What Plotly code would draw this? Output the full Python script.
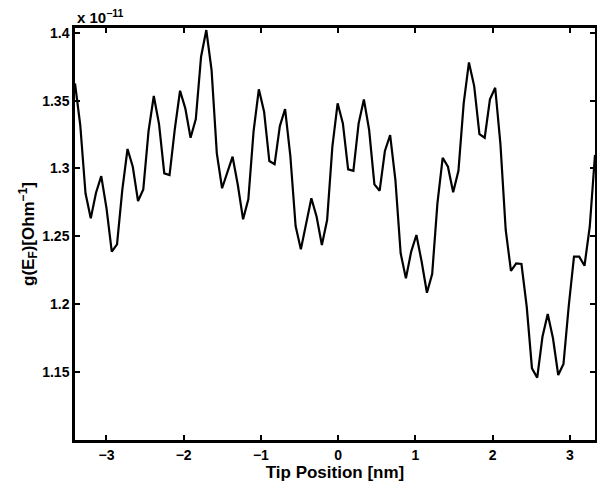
import plotly.graph_objects as go

tip_position_nm = [
    -3.407, -3.339, -3.271, -3.203, -3.135, -3.067, -2.999, -2.931, -2.863, -2.795,
    -2.727, -2.659, -2.591, -2.523, -2.455, -2.387, -2.319, -2.251, -2.183, -2.115,
    -2.047, -1.979, -1.911, -1.843, -1.775, -1.707, -1.639, -1.571, -1.503, -1.435,
    -1.367, -1.299, -1.231, -1.163, -1.095, -1.027, -0.959, -0.891, -0.823, -0.755,
    -0.687, -0.619, -0.551, -0.483, -0.415, -0.347, -0.279, -0.211, -0.143, -0.075,
    -0.007, 0.061, 0.129, 0.197, 0.265, 0.333, 0.401, 0.469, 0.537, 0.605,
    0.673, 0.741, 0.809, 0.877, 0.945, 1.013, 1.081, 1.149, 1.217, 1.285,
    1.353, 1.421, 1.489, 1.557, 1.625, 1.693, 1.761, 1.829, 1.897, 1.965,
    2.033, 2.101, 2.169, 2.237, 2.305, 2.373, 2.441, 2.509, 2.577, 2.645,
    2.713, 2.781, 2.849, 2.917, 2.985, 3.053, 3.121, 3.189, 3.257, 3.325,
]

# g(E_F) in units of 1e-11 Ohm^-1
g_ef = [
    1.3628, 1.3321, 1.2817, 1.2632, 1.2821, 1.2944, 1.2706, 1.2386, 1.2440, 1.2841,
    1.3144, 1.3013, 1.2760, 1.2846, 1.3276, 1.3535, 1.3328, 1.2964, 1.2952, 1.3291,
    1.3574, 1.3444, 1.3227, 1.3365, 1.3825, 1.4022, 1.3727, 1.3112, 1.2854, 1.2969,
    1.3087, 1.2878, 1.2625, 1.2772, 1.3276, 1.3584, 1.3419, 1.3055, 1.3031, 1.3313,
    1.3439, 1.3092, 1.2575, 1.2403, 1.2600, 1.2780, 1.2644, 1.2435, 1.2620, 1.3161,
    1.3481, 1.3333, 1.2994, 1.2983, 1.3333, 1.3510, 1.3284, 1.2883, 1.2836, 1.3129,
    1.3247, 1.2915, 1.2374, 1.2189, 1.2386, 1.2509, 1.2312, 1.2083, 1.2221, 1.2743,
    1.3079, 1.3013, 1.2824, 1.2983, 1.3481, 1.3783, 1.3608, 1.3254, 1.3227, 1.3510,
    1.3596, 1.3178, 1.2546, 1.2245, 1.2300, 1.2295, 1.1980, 1.1525, 1.1456, 1.1758,
    1.1926, 1.1747, 1.1476, 1.1557, 1.1985, 1.2349, 1.2349, 1.2282, 1.2570, 1.3100,
]

x_ticks = [-3, -2, -1, 0, 1, 2, 3]
x_tick_labels = ["−3", "−2", "−1", "0", "1", "2", "3"]
y_ticks = [1.15, 1.2, 1.25, 1.3, 1.35, 1.4]
y_tick_labels = ["1.15", "1.2", "1.25", "1.3", "1.35", "1.4"]
y_range = [1.0996, 1.4037]

FONT = "Liberation Sans, Arial, Helvetica, sans-serif"

fig = go.Figure()
fig.add_trace(go.Scatter(
    x=tip_position_nm, y=g_ef, mode="lines",
    line=dict(color="black", width=2.2),
    showlegend=False, hoverinfo="skip",
))

axis_common = dict(
    showline=True, linecolor="black", linewidth=2.5, mirror="allticks",
    ticks="inside", ticklen=5, tickwidth=1.5, tickcolor="black",
    showgrid=False, zeroline=False, automargin=False,
    tickfont=dict(family=FONT, size=14, color="black"),
)

fig.update_layout(
    width=597, height=484,
    margin=dict(l=75, r=2, t=28, b=44, pad=0),
    paper_bgcolor="white", plot_bgcolor="white",
    font=dict(family=FONT, color="black"),
    xaxis=dict(
        range=[tip_position_nm[0], tip_position_nm[-1]],
        tickvals=x_ticks, ticktext=["<b>%s</b>" % t for t in x_tick_labels],
        title=dict(text="<b>Tip Position [nm]</b>", font=dict(family=FONT, size=17), standoff=0),
        **axis_common,
    ),
    yaxis=dict(
        range=y_range,
        tickvals=y_ticks, ticktext=["<b>%s</b>" % t for t in y_tick_labels],
        title=dict(text="<b>g(E<sub>F</sub>)[Ohm<sup>−1</sup>]</b>", font=dict(family=FONT, size=17), standoff=4),
        **axis_common,
    ),
    annotations=[dict(
        xref="paper", yref="paper", x=0, y=1, xanchor="left", yanchor="bottom",
        text="<b>x 10<sup>−11</sup></b>", showarrow=False, yshift=0,
        font=dict(family=FONT, size=15, color="black"),
    )],
)

fig.write_html(
    "out.html",
    config={"displayModeBar": False},
    post_script="document.body.style.margin='0';document.body.style.overflow='hidden';",
)
